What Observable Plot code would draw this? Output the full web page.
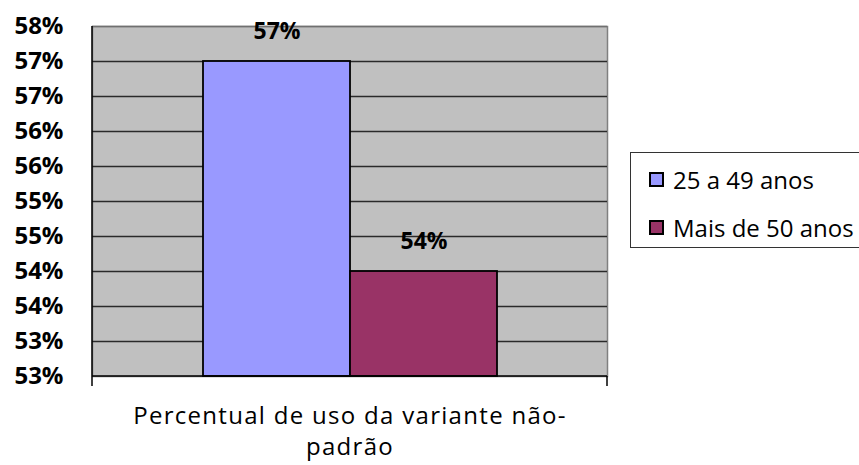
<!DOCTYPE html>
<html>
<head>
<meta charset="utf-8">
<script src="https://cdn.jsdelivr.net/npm/d3@7"></script>
<script src="https://cdn.jsdelivr.net/npm/@observablehq/plot@0.6"></script>
<style>
  html, body { margin: 0; padding: 0; background: #fff; overflow: hidden; }
  #wrap { position: relative; width: 859px; height: 465px; overflow: hidden; }
  #legend {
    position: absolute; left: 630px; top: 152px; width: 260px; height: 96px;
    border: 1.5px solid #333; background: #fff; box-sizing: border-box;
    font-family: "Open Sans", sans-serif; font-size: 24px; font-weight: 500; color: #000;
  }
  .item { position: absolute; left: 18px; height: 30px; display: flex; align-items: center; white-space: nowrap; }
  .sw { width: 15px; height: 15px; border: 2px solid #000; margin-right: 9px; box-sizing: border-box; flex: none; }
</style>
</head>
<body>
<div id="wrap"></div>
<script>
const series = ["25 a 49 anos", "Mais de 50 anos"];
const values = [57, 54];
const colors = ["#9999ff", "#993366"];
const captionLines = ["Percentual de uso da variante não-", "padrão"];
const yTicks = [52.5, 53, 53.5, 54, 54.5, 55, 55.5, 56, 56.5, 57, 57.5];
const yDomain = [52.5, 57.5];

const data = series.map((s, i) => ({series: s, value: values[i], base: yDomain[0], label: values[i] + "%"}));

// axis lines drawn from the plot's own dimensions
function axisLines(index, scales, values, dim) {
  const g = d3.create("svg:g").attr("stroke", "#000").attr("stroke-width", 1.5);
  const l = dim.marginLeft, r = dim.width - dim.marginRight;
  const t = dim.marginTop, b = dim.height - dim.marginBottom;
  g.append("line").attr("x1", l).attr("x2", l).attr("y1", t).attr("y2", b + 10);
  g.append("line").attr("x1", l).attr("x2", r).attr("y1", b).attr("y2", b);
  g.append("line").attr("x1", r).attr("x2", r).attr("y1", b).attr("y2", b + 10);
  return g.node();
}

const chart = Plot.plot({
  width: 859,
  height: 465,
  marginLeft: 92,
  marginRight: 252,
  marginTop: 26,
  marginBottom: 89,
  style: {fontFamily: "'Open Sans', sans-serif", background: "transparent", overflow: "visible"},
  x: {domain: series, paddingInner: 0, paddingOuter: 0.74, axis: null},
  y: {domain: yDomain, ticks: yTicks, axis: null},
  color: {domain: series, range: colors},
  marks: [
    Plot.frame({fill: "#c0c0c0", stroke: "#808080", strokeWidth: 1.5}),
    Plot.ruleY(yTicks.slice(1, -1), {stroke: "#2a2a2a", strokeWidth: 1.3}),
    Plot.ruleY([yDomain[1]], {stroke: "#707070", strokeWidth: 1.5}),
    Plot.barY(data, {x: "series", y1: "base", y2: "value", fill: "series", stroke: "#000", strokeWidth: 1.8}),
    Plot.axisY({ticks: yTicks, tickSize: 9, tickPadding: 20, tickFormat: d => Math.round(d) + "%", fontSize: 24, fontWeight: "bold", fill: "#000", stroke: null, tickStroke: "#000", tickStrokeWidth: 1.5}),
    axisLines,
    Plot.text(data, {x: "series", y: "value", text: "label", dy: -30, fontSize: 23, fontWeight: "bold", fill: "#000"}),
    Plot.text([captionLines.join("\n")], {frameAnchor: "bottom", dy: 25, lineAnchor: "top", fontSize: 24, fontWeight: 500, lineHeight: 1.3, fill: "#000"})
  ]
});
const textGroups = d3.select(chart).selectAll('g[aria-label="text"]').nodes();
d3.select(textGroups[textGroups.length - 1]).style("letter-spacing", "1.3px");
document.getElementById("wrap").appendChild(chart);

const legend = document.createElement("div");
legend.id = "legend";
series.forEach((s, i) => {
  const it = document.createElement("div");
  it.className = "item";
  it.style.top = (i === 0 ? 11 : 59) + "px";
  const sw = document.createElement("span");
  sw.className = "sw";
  sw.style.background = colors[i];
  const t = document.createElement("span");
  t.textContent = s;
  it.appendChild(sw); it.appendChild(t);
  legend.appendChild(it);
});
document.getElementById("wrap").appendChild(legend);
</script>
</body>
</html>
